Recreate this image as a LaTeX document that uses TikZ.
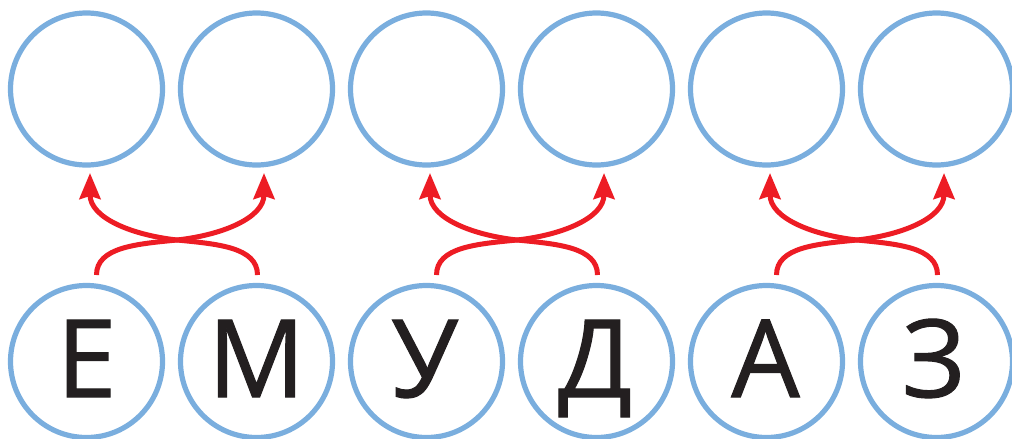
\documentclass[tikz,border=0pt]{standalone}
\usepackage{fontspec}
\setmainfont{Open Sans}
\newfontfamily\lettfont[FakeBold=1.0]{Open Sans}
\usetikzlibrary{arrows.meta,calc}
\definecolor{ringblue}{RGB}{122,174,222}
\definecolor{arrred}{RGB}{237,28,36}
\definecolor{inkdark}{RGB}{35,31,32}
\tikzset{
  ring/.style={circle,draw=ringblue,line width=5.2pt,minimum size=152pt,inner sep=0pt,outer sep=0pt},
  letter/.style={anchor=base,text=inkdark,font=\lettfont\fontsize{108}{108}\selectfont,inner sep=0pt},
  arr/.style={draw=arrred,line width=5pt,-{Stealth[length=26pt,width=21pt,inset=3pt]}}
}
\begin{document}
\begin{tikzpicture}[x=1pt,y=-1pt]
\useasboundingbox (0,0) rectangle (1012,439);
% rings
\foreach \i/\x in {1/86.5,2/256.5,3/426.5,4/596.5,5/766.5,6/936.5}{
  \node[ring] (t\i) at (\x,89) {};
  \node[ring] (b\i) at (\x,361.5) {};
}
% letters
\node[letter] (l1) at (86.5,397) {Е};
\node[letter] (l2) at (256.5,397) {М};
\node[letter] (l3) at (424.5,397) {У};
\node[letter] (l4) at (595,397) {Д};
\node[letter] (l5) at (765.5,397) {А};
\node[letter] (l6) at (934,397) {З};
% crossings
\coordinate (x1) at (177,240);
\coordinate (x2) at (517,240);
\coordinate (x3) at (857,240);
% arrows
\foreach \a/\b/\c in {1/2/1,3/4/2,5/6/3}{
  \draw[arr] ([xshift=10pt,yshift=10.5pt]b\a.north) .. controls +(0,-28) and +(-40,4) .. (x\c)
     .. controls +(45,-5) and +(0,45) .. ([xshift=7.5pt,yshift=-8pt]t\b.south);
  \draw[arr] ([xshift=1pt,yshift=10.5pt]b\b.north) .. controls +(0,-28) and +(40,4) .. (x\c)
     .. controls +(-45,-5) and +(0,45) .. ([xshift=3.5pt,yshift=-8pt]t\a.south);
}
\end{tikzpicture}
\end{document}
